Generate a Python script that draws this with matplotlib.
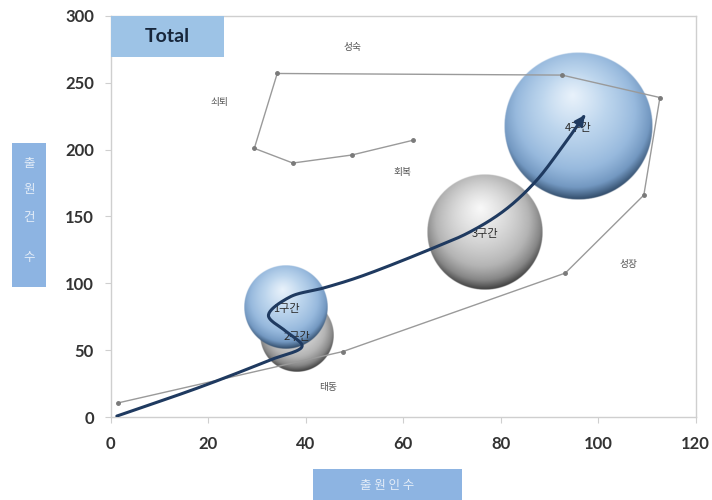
import numpy as np
import matplotlib
matplotlib.use("Agg")
import matplotlib.pyplot as plt
from matplotlib.path import Path
from matplotlib.patches import FancyArrowPatch, Rectangle

plt.rcParams["font.family"] = ["Lato", "Noto Sans CJK KR", "DejaVu Sans"]

# ---- data -------------------------------------------------------------
# bubbles: stage name, applicants (x), applications (y), bubble size
bubble_labels = ["1구간", "2구간", "3구간", "4구간"]
bubble_x = [36.0, 38.3, 76.8, 95.9]
bubble_y = [82.0, 61.0, 138.0, 217.6]
bubble_size = [32, 25, 61, 100]
bubble_tone = ["blue", "gray", "gray", "blue"]
draw_order = [1, 0, 2, 3]

# technology life-cycle path (thin gray polyline)
cycle_x = [1.5, 47.7, 93.3, 109.4, 112.7, 92.6, 34.2, 29.5, 37.4, 49.5, 62.0]
cycle_y = [10.5, 49.0, 107.7, 166.0, 239.0, 255.8, 257.0, 201.0, 190.0, 196.0, 207.0]

# phase names along the life-cycle path
phase_names = ["태동", "성장", "성숙", "쇠퇴", "회복"]
phase_x = [44.7, 106.2, 49.7, 22.3, 59.8]
phase_y = [22.4, 114.4, 276.7, 235.6, 183.0]

# trend trajectory through the four stages (navy arrow)
trend_x = [1.3, 18.4, 32.7, 39.3, 36.0, 32.4, 36.8, 43.5, 51.2, 66.2, 73.7, 80.9, 87.1, 92.2, 97.3]
trend_y = [0.7, 22.4, 42.6, 53.0, 64.0, 76.0, 89.8, 96.3, 105.0, 126.4, 138.4, 154.8, 175.8, 199.7, 225.9]

x_ticks = [0, 20, 40, 60, 80, 100, 120]
y_ticks = [0, 50, 100, 150, 200, 250, 300]

# ---- figure -------------------------------------------------------------
W, H = 712, 500
fig = plt.figure(figsize=(W / 100, H / 100), dpi=100)
fig.patch.set_facecolor("white")
ax = fig.add_axes([110.5 / W, 83 / H, 585 / W, 401 / H])
ax.set_xlim(0, 120)
ax.set_ylim(0, 300)
ax.set_xticks(x_ticks)
ax.set_yticks(y_ticks)
for s in ax.spines.values():
    s.set_color("#cfcfcf")
    s.set_linewidth(1.0)
ax.tick_params(axis="both", colors="#cfcfcf", labelcolor="#333333", length=4,
               labelsize=12)
ax.tick_params(axis="x", pad=10)
ax.tick_params(axis="y", pad=8)
for lab in ax.get_xticklabels() + ax.get_yticklabels():
    lab.set_fontweight("bold")


def sphere_rgba(tone, n=320, hl=(-0.08, 0.42)):
    pos = [0.0, 0.28, 0.58, 0.8, 1.0]
    if tone == "blue":
        cols = ["#ecf4fc", "#bcd5ed", "#97b9dd", "#7398c1", "#2d4764"]
    else:
        cols = ["#fbfbfb", "#d9d9d9", "#b4b4b4", "#868686", "#3b3b3b"]
    cols = np.array([matplotlib.colors.to_rgb(c) for c in cols])
    g = np.linspace(-1, 1, n)
    X, Y = np.meshgrid(g, g[::-1])
    r = np.hypot(X, Y)
    d = np.hypot(X - hl[0], Y - hl[1]) / (1 + np.hypot(*hl))
    d = np.clip(0.75 * d + 0.25 * r ** 3, 0, 1)
    rgb = np.stack([np.interp(d, pos, cols[:, i]) for i in range(3)], axis=-1)
    alpha = np.clip((1 - r) * n / 3.0, 0, 1)
    return np.dstack([rgb, alpha])


# bubbles drawn as shaded spheres
px_per_sqrt = 7.4 * fig.dpi / 100
for z, i in enumerate(draw_order):
    cx, cy = ax.transData.transform((bubble_x[i], bubble_y[i]))
    rad = px_per_sqrt * np.sqrt(bubble_size[i])
    (x0, y0), (x1, y1) = ax.transData.inverted().transform(
        [(cx - rad, cy - rad), (cx + rad, cy + rad)])
    ax.imshow(sphere_rgba(bubble_tone[i]), extent=[x0, x1, y0, y1],
              aspect="auto", interpolation="bilinear", zorder=2 + z * 0.1)
    ax.annotate(bubble_labels[i], (bubble_x[i], bubble_y[i]), xytext=(0, -1),
                textcoords="offset points", ha="center", va="center",
                fontsize=8, color="#2a2a2a", zorder=6,
                family=["Noto Sans CJK KR", "DejaVu Sans"])

# life-cycle polyline
ax.plot(cycle_x, cycle_y, color="#9a9a9a", lw=1.0, marker="o", ms=2.5,
        mfc="#7a7a7a", mec="#7a7a7a", zorder=4)
for name, px, py in zip(phase_names, phase_x, phase_y):
    ax.text(px, py, name, ha="center", va="center", fontsize=7, color="#555555",
            family=["Noto Sans CJK KR", "DejaVu Sans"], zorder=5)


# smooth trend arrow (centripetal Catmull-Rom in display space)
def catmull_rom(P, n=24, a=0.5):
    P = np.asarray(P, float)
    P = np.vstack([2 * P[0] - P[1], P, 2 * P[-1] - P[-2]])
    out = []
    for i in range(1, len(P) - 2):
        p0, p1, p2, p3 = P[i - 1], P[i], P[i + 1], P[i + 2]
        t0 = 0.0
        t1 = t0 + np.linalg.norm(p1 - p0) ** a
        t2 = t1 + np.linalg.norm(p2 - p1) ** a
        t3 = t2 + np.linalg.norm(p3 - p2) ** a
        t = np.linspace(t1, t2, n, endpoint=False)[:, None]
        A1 = (t1 - t) / (t1 - t0) * p0 + (t - t0) / (t1 - t0) * p1
        A2 = (t2 - t) / (t2 - t1) * p1 + (t - t1) / (t2 - t1) * p2
        A3 = (t3 - t) / (t3 - t2) * p2 + (t - t2) / (t3 - t2) * p3
        B1 = (t2 - t) / (t2 - t0) * A1 + (t - t0) / (t2 - t0) * A2
        B2 = (t3 - t) / (t3 - t1) * A2 + (t - t1) / (t3 - t1) * A3
        out.append((t2 - t) / (t2 - t1) * B1 + (t - t1) / (t2 - t1) * B2)
    out.append(P[-2][None])
    return np.vstack(out)


disp = ax.transData.transform(np.column_stack([trend_x, trend_y]))
curve = ax.transData.inverted().transform(catmull_rom(disp))
arrow = FancyArrowPatch(path=Path(curve), arrowstyle="-|>", mutation_scale=14,
                        color="#1f3a60", lw=2.2, zorder=7)
ax.add_patch(arrow)

ax.set_xlim(0, 120)
ax.set_ylim(0, 300)

# "Total" title box in the upper-left corner of the plot
ax.add_patch(Rectangle((0, 0.898), 0.194, 0.102, transform=ax.transAxes,
                       facecolor="#9dc3e6", edgecolor="none", zorder=8,
                       clip_on=False))
ax.text(0.097, 0.949, "Total", transform=ax.transAxes, ha="center", va="center",
        fontsize=14, fontweight="bold", color="#17263b", zorder=9)

# axis title boxes
box_c = "#8db4e2"
txt_c = "#e4edf8"
fig.add_artist(Rectangle((12 / W, 1 - 287 / H), 34 / W, 144 / H,
                         transform=fig.transFigure, facecolor=box_c,
                         edgecolor="none"))
for ch, py in zip("출원건수", [163, 190, 218, 258]):
    fig.text(29 / W, 1 - py / H, ch, ha="center", va="center", fontsize=9,
             color=txt_c, family=["Noto Sans CJK KR", "DejaVu Sans"])
fig.add_artist(Rectangle((313 / W, 0), 149 / W, 31 / H,
                         transform=fig.transFigure, facecolor=box_c,
                         edgecolor="none"))
fig.text(387 / W, 1 - 486 / H, "출 원 인 수", ha="center", va="center",
         fontsize=9, color=txt_c, family=["Noto Sans CJK KR", "DejaVu Sans"])

fig.savefig("out.png", dpi=100, facecolor="white")
